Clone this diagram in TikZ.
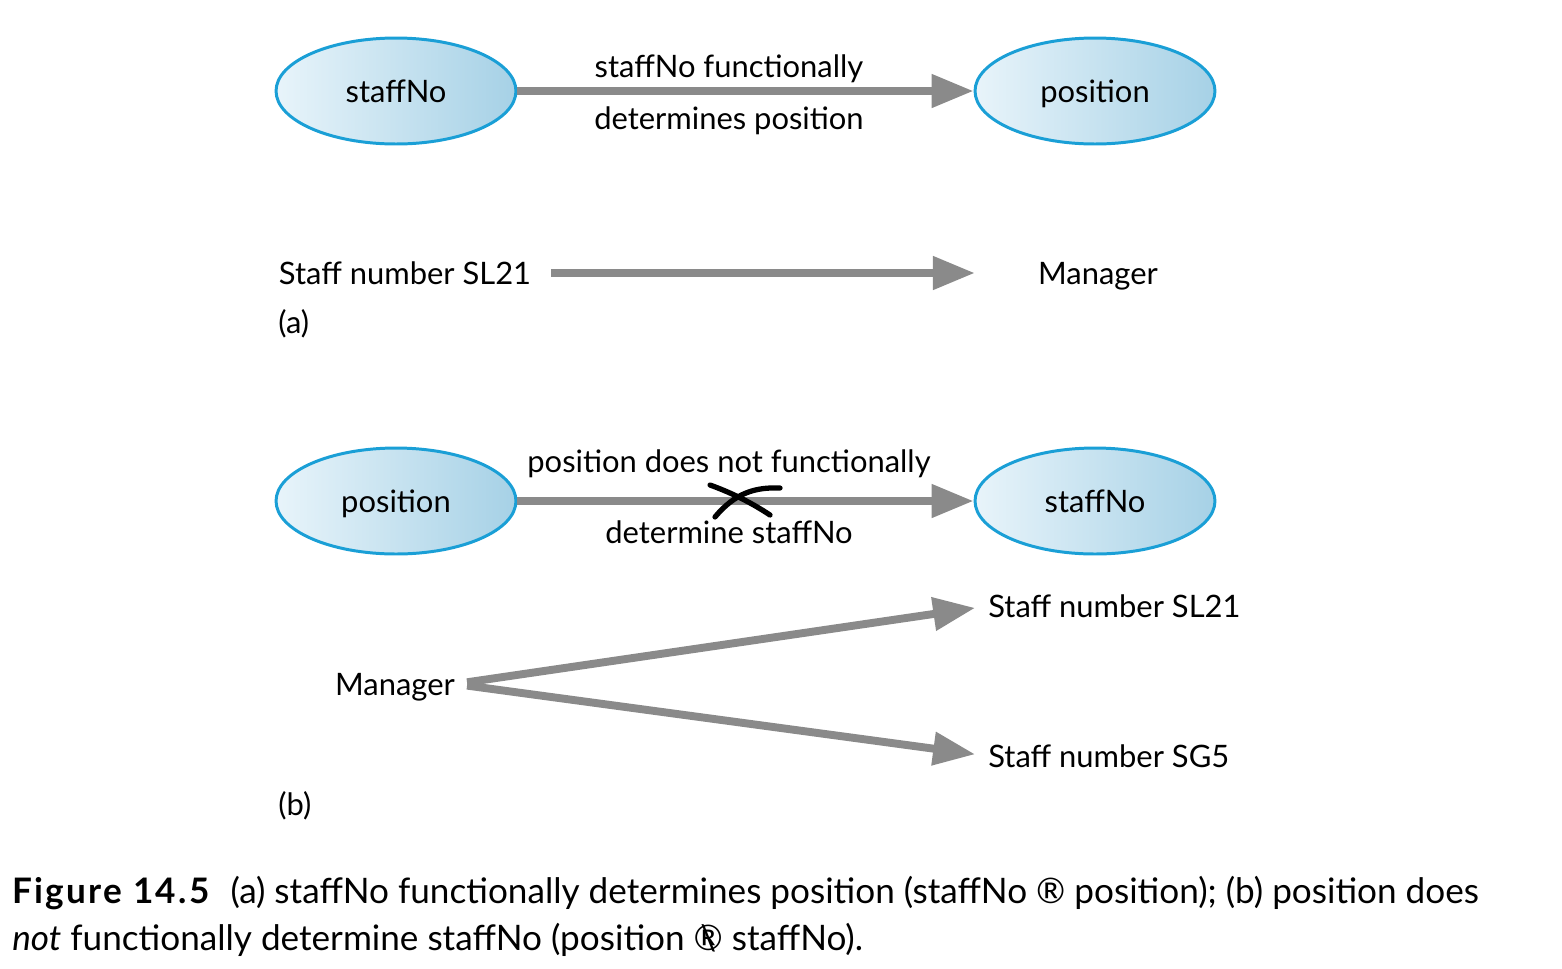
\documentclass[tikz,border=0pt]{standalone}
\usepackage{fontspec}
\setmainfont{Lato}
\usetikzlibrary{arrows.meta,positioning,shapes.geometric}

\definecolor{attrline}{HTML}{1A9FD6}
\definecolor{attrleft}{HTML}{E8F4FA}
\definecolor{attrright}{HTML}{A6D1E6}
\definecolor{fdgray}{HTML}{8A8A8A}
\newcommand{\diagfont}{\fontsize{17.6}{21}\selectfont}
\newcommand{\capfont}{\fontsize{20}{24}\selectfont}
\newcommand{\notfd}{\ooalign{\textregistered\cr\hidewidth\textbackslash\hidewidth}}

\begin{document}
\begin{tikzpicture}[x=0.02cm,y=-0.02cm,
    attr/.style={ellipse, draw=attrline, line width=1.7pt, left color=attrleft, right color=attrright,
        minimum width=4.8cm, minimum height=2.12cm, inner sep=0pt, font=\diagfont,
        text height=16.2pt, text depth=3.6pt},
    val/.style={inner sep=0pt, font=\diagfont, text height=16.2pt, text depth=3.6pt},
    fd/.style={draw=fdgray, line width=4.5pt, -{Triangle[length=0.84cm,width=0.64cm]}}]
    \useasboundingbox (0,0) rectangle (1562,968);

    % (a) staffNo -> position
    \node[attr] (staffno) at (396,91) {staffNo};
    \node[attr] (position) at (1095,91) {position};
    \draw[fd] (staffno) -- (position);
    \node[val] (fdtop) at (729,66) {staffNo functionally};
    \node[val] (fdbot) at (729,118) {determines position};

    \node[val] (sl21a) at (405,273) {Staff number SL21};
    \node[val] (mgra) at (1098,273) {Manager};
    \draw[fd, shorten <=0.4cm, shorten >=1.26cm] (sl21a) -- (mgra);
    \node[val, anchor=west] (labela) at (278,322) {(a)};

    % (b) position -/-> staffNo
    \node[attr] (positionb) at (396,501) {position};
    \node[attr] (staffnob) at (1095,501) {staffNo};
    \draw[fd] (positionb) -- (staffnob);
    \node[val] (nfdtop) at (729,461) {position does not functionally};
    \node[val] (nfdbot) at (729,532) {determine staffNo};
    \draw[line width=3pt, line cap=round] (710,485) .. controls (735,494) and (755,505) .. (770,515);
    \draw[line width=3pt, line cap=round] (715,517) .. controls (735,493) and (755,487) .. (780,488);

    \node[val] (mgrb) at (395,684) {Manager};
    \node[val, anchor=west] (sl21b) at (988,606) {Staff number SL21};
    \node[val, anchor=west] (sg5b) at (988,756) {Staff number SG5};
    \draw[fd, shorten <=0.24cm, shorten >=0.26cm] (mgrb.east) -- (sl21b.west);
    \draw[fd, shorten <=0.24cm, shorten >=0.26cm] (mgrb.east) -- (sg5b.west);
    \node[val, anchor=west] (labelb) at (278,804) {(b)};

    % caption
    \node[anchor=base west, inner sep=0pt, font=\capfont] (cap1) at (12,903)
        {{\bfseries\addfontfeatures{LetterSpace=6.5}Figure 14.5}\hspace{0.6em}(a) staffNo functionally determines position (staffNo \textregistered{} position); (b) position does};
    \node[anchor=base west, inner sep=0pt, font=\capfont] (cap2) at (12,950)
        {\textit{not} functionally determine staffNo (position \notfd{} staffNo).};
\end{tikzpicture}
\end{document}
